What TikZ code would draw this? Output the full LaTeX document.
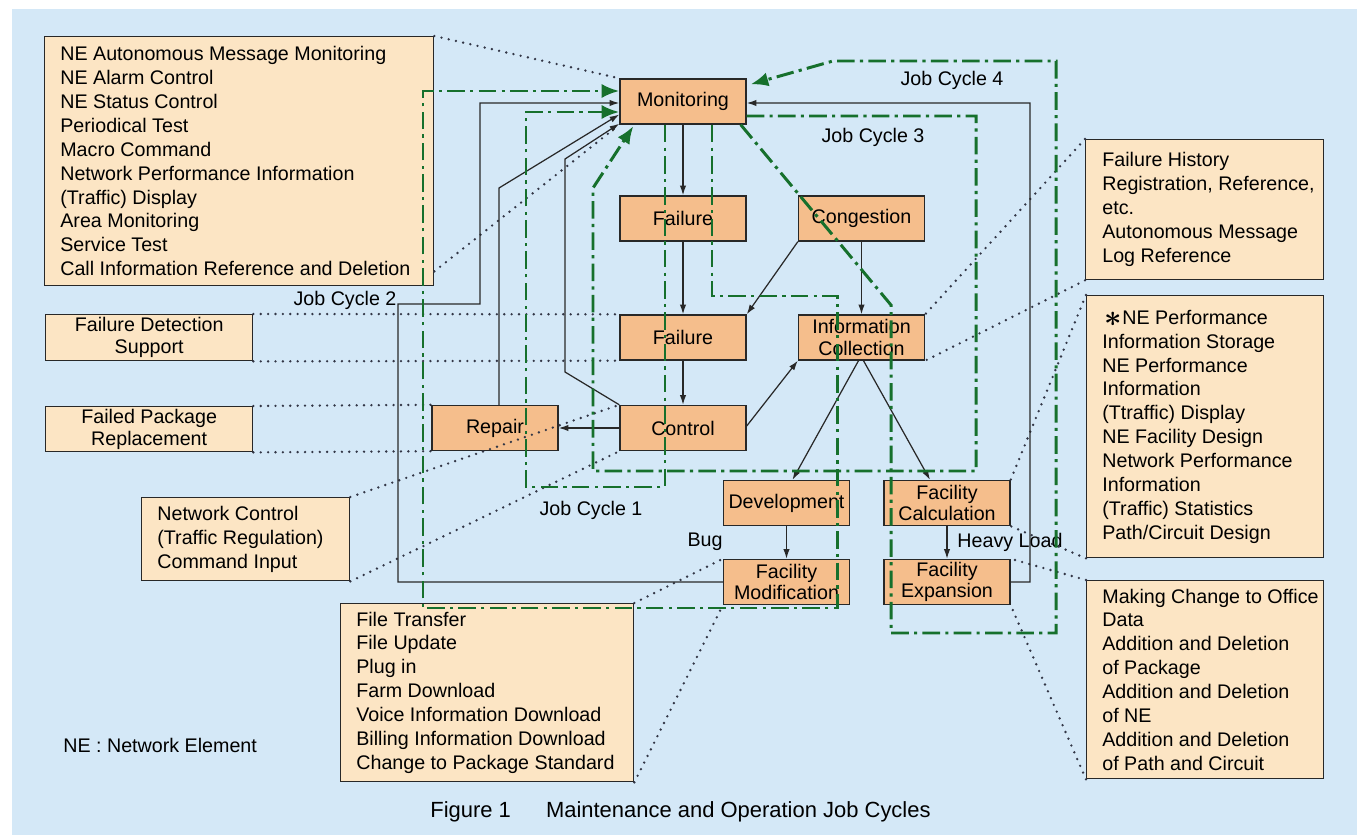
\documentclass[tikz,border=0pt]{standalone}
\usepackage{fontspec}
\setmainfont{Liberation Sans}
\usetikzlibrary{arrows.meta,calc}
\definecolor{bgblue}{RGB}{212,232,247}
\definecolor{notefill}{RGB}{252,229,196}
\definecolor{procfill}{RGB}{245,190,140}
\definecolor{loopgreen}{RGB}{22,112,44}
\definecolor{inkgray}{RGB}{40,40,40}
\definecolor{dotgray}{RGB}{50,54,70}

\begin{document}
\begin{tikzpicture}[x=0.02cm,y=-0.02cm,
  every node/.style={font=\fontsize{11.2}{13.6}\selectfont, text=black},
  proc/.style={draw=inkgray, line width=0.8pt, fill=procfill, minimum width=2.52cm,
    minimum height=0.9cm, inner sep=0pt, align=center, font=\fontsize{11.2}{12}\selectfont},
  note/.style={draw=inkgray, line width=0.8pt, fill=notefill, anchor=north west, inner sep=0pt},
  notetext/.style={anchor=west, align=left, inner sep=0pt},
  flow/.style={draw=inkgray, line width=0.7pt, -{Latex[length=5.5pt,width=3.6pt]}},
  tie/.style={draw=dotgray, line width=1.5pt, line cap=round, dash pattern=on 0pt off 4.2pt},
  jobloop/.style={draw=loopgreen, line width=1.7pt, dash pattern=on 10pt off 3pt on 1.8pt off 3pt,
    -{Latex[length=10pt,width=8pt]}},
  lbl/.style={inner sep=0pt}
]
% page and background
\useasboundingbox (0,0) rectangle (1360,835);
\fill[white] (0,0) rectangle (1360,835);
\fill[bgblue] (12,9) rectangle (1357,835);

% process nodes
\node[proc] (mon)     at (683,101.5) {Monitoring};
\node[proc] (fail1)   at (683,218.5) {Failure};
\node[proc] (cong)    at (861.5,218.5) {Congestion};
\node[proc] (fail2)   at (683,337.5) {Failure};
\node[proc] (info)    at (861.5,337.5) {Information\\Collection};
\node[proc] (repair)  at (495,428) {Repair};
\node[proc] (control) at (683,428) {Control};
\node[proc] (dev)     at (786.5,503) {Development};
\node[proc] (fcalc)   at (947,503) {Facility\\Calculation};
\node[proc] (fmod)    at (786.5,582) {Facility\\Modification};
\node[proc] (fexp)    at (947,582) {Facility\\Expansion};

% function lists
\node[note, minimum width=7.78cm, minimum height=4.98cm] (ops) at (44,36) {};
\node[notetext] (opstext) at ($(ops.west)+(16,0)$) {NE Autonomous Message Monitoring\\NE Alarm Control\\NE Status Control\\Periodical Test\\Macro Command\\Network Performance Information\\(Traffic) Display\\Area Monitoring\\Service Test\\Call Information Reference and Deletion};

\node[note, minimum width=4.14cm, minimum height=0.92cm, align=center,
  font=\fontsize{11.2}{12.5}\selectfont] (detect) at (45,314) {Failure Detection\\Support};
\node[note, minimum width=4.14cm, minimum height=0.9cm, align=center,
  font=\fontsize{11.2}{12.5}\selectfont] (replace) at (45,406) {Failed Package\\Replacement};

\node[note, minimum width=4.16cm, minimum height=1.66cm] (netctl) at (141,497) {};
\node[notetext] (netctltext) at ($(netctl.west)+(16,0)$) {Network Control\\(Traffic Regulation)\\Command Input};

\node[note, minimum width=5.86cm, minimum height=3.56cm] (files) at (340,603) {};
\node[notetext] (filestext) at ($(files.west)+(16,0)$) {File Transfer\\File Update\\Plug in\\Farm Download\\Voice Information Download\\Billing Information Download\\Change to Package Standard};

\node[note, minimum width=4.76cm, minimum height=2.8cm] (hist) at (1085,139) {};
\node[notetext] (histtext) at ($(hist.west)+(17,0)$) {Failure History\\Registration, Reference,\\etc.\\Autonomous Message\\Log Reference};

\node[note, minimum width=4.74cm, minimum height=5.24cm] (perf) at (1086,295) {};
\node[notetext] (perftext) at ($(perf.west)+(16,0)$) {\hspace*{1.5pt}\raisebox{-1.2pt}{\fontsize{16}{16}\selectfont\boldmath$\ast$}NE Performance\\Information Storage\\NE Performance\\Information\\(Ttraffic) Display\\NE Facility Design\\Network Performance\\Information\\(Traffic) Statistics\\Path/Circuit Design};

\node[note, minimum width=4.74cm, minimum height=3.96cm] (office) at (1086,580) {};
\node[notetext] (officetext) at ($(office.west)+(16,0)$) {Making Change to Office\\Data\\Addition and Deletion\\of Package\\Addition and Deletion\\of NE\\Addition and Deletion\\of Path and Circuit};

% labels
\node[lbl] (jc4) at (952,80) {Job Cycle 4};
\node[lbl] (jc3) at (873,137) {Job Cycle 3};
\node[lbl] (jc2) at (345,300) {Job Cycle 2};
\node[lbl] (jc1) at (591,510) {Job Cycle 1};
\node[lbl] (bug) at (705,542) {Bug};
\node[lbl] (heavy) at (1010,542) {Heavy Load};
\node[lbl, anchor=west] (neterm) at (63,745) {NE : Network Element};
\node[lbl, anchor=west, font=\fontsize{12.5}{14}\selectfont] (caption) at (430,812) {Figure 1\hspace{20pt}Maintenance and Operation Job Cycles};

% dotted ties between lists and steps
\draw[tie] (ops.north east) -- (mon.north west);
\draw[tie] ($(ops.south east)+(0,-15)$) -- (mon.south west);
\draw[tie] (detect.north east) -- (fail2.north west);
\draw[tie] (detect.south east) -- (fail2.south west);
\draw[tie] (replace.north east) -- (repair.north west);
\draw[tie] (replace.south east) -- (repair.south west);
\draw[tie] (netctl.north east) -- (control.north west);
\draw[tie] (netctl.south east) -- (control.south west);
\draw[tie] (files.north east) -- (fmod.north west);
\draw[tie] (files.south east) -- (fmod.south west);
\draw[tie] (hist.north west) -- (info.north east);
\draw[tie] (hist.south west) -- (info.south east);
\draw[tie] (perf.north west) -- (fcalc.north east);
\draw[tie] (perf.south west) -- (fcalc.south east);
\draw[tie] (office.north west) -- (fexp.north east);
\draw[tie] (office.south west) -- (fexp.south east);

% main flow
\draw[flow] (mon) -- (fail1);
\draw[flow] (fail1) -- (fail2);
\draw[flow] (fail2) -- (control);
\draw[flow] (cong) -- (info);
\draw[flow] (cong.south west) -- (fail2.north east);
\draw[flow] ($(control.east)+(0,-2)$) -- (info.south west);
\draw[flow] ($(info.south)+(-3,0)$) -- ($(dev.north)+(6,0)$);
\draw[flow] ($(info.south)+(2,0)$) -- ($(fcalc.north)+(-17,0)$);
\draw[flow] (dev) -- (fmod);
\draw[flow] (fcalc) -- (fexp);
\draw[flow] (control.west) -- (repair.east);

% feedback to monitoring
\draw[flow] (fmod.west) -| (398,304) -| (480,103) -- ($(mon.west)+(0,1.5)$);
\draw[flow] ($(repair.north)+(4,0)$) -- (499,188) -- ($(mon.west)+(0,13)$);
\draw[flow] (control.north west) -- (565,372) -- (565,159) -- ($(mon.south west)+(0,-1)$);
\draw[flow] (fexp.east) -| (1030,103) -- ($(mon.east)+(0,1.5)$);

% job cycles
\draw[jobloop] ($(mon.south)+(-18,0)$) |- (526,487) |- ($(mon.west)+(0,10.5)$);
\draw[jobloop] ($(mon.south)+(29,0)$) |- (837,296) |- (423,608) |- ($(mon.west)+(0,-10.5)$);
\draw[jobloop] ($(mon.east)+(0,14.5)$) -| (976,471) -| (593,188) -- ($(mon.south west)+(14,1.5)$);
\draw[jobloop] ($(mon.south east)+(-6,0)$) -- (891,305) |- (1056,633) |- (833,61) -- ($(mon.north east)+(4,6)$);
\end{tikzpicture}
\end{document}
